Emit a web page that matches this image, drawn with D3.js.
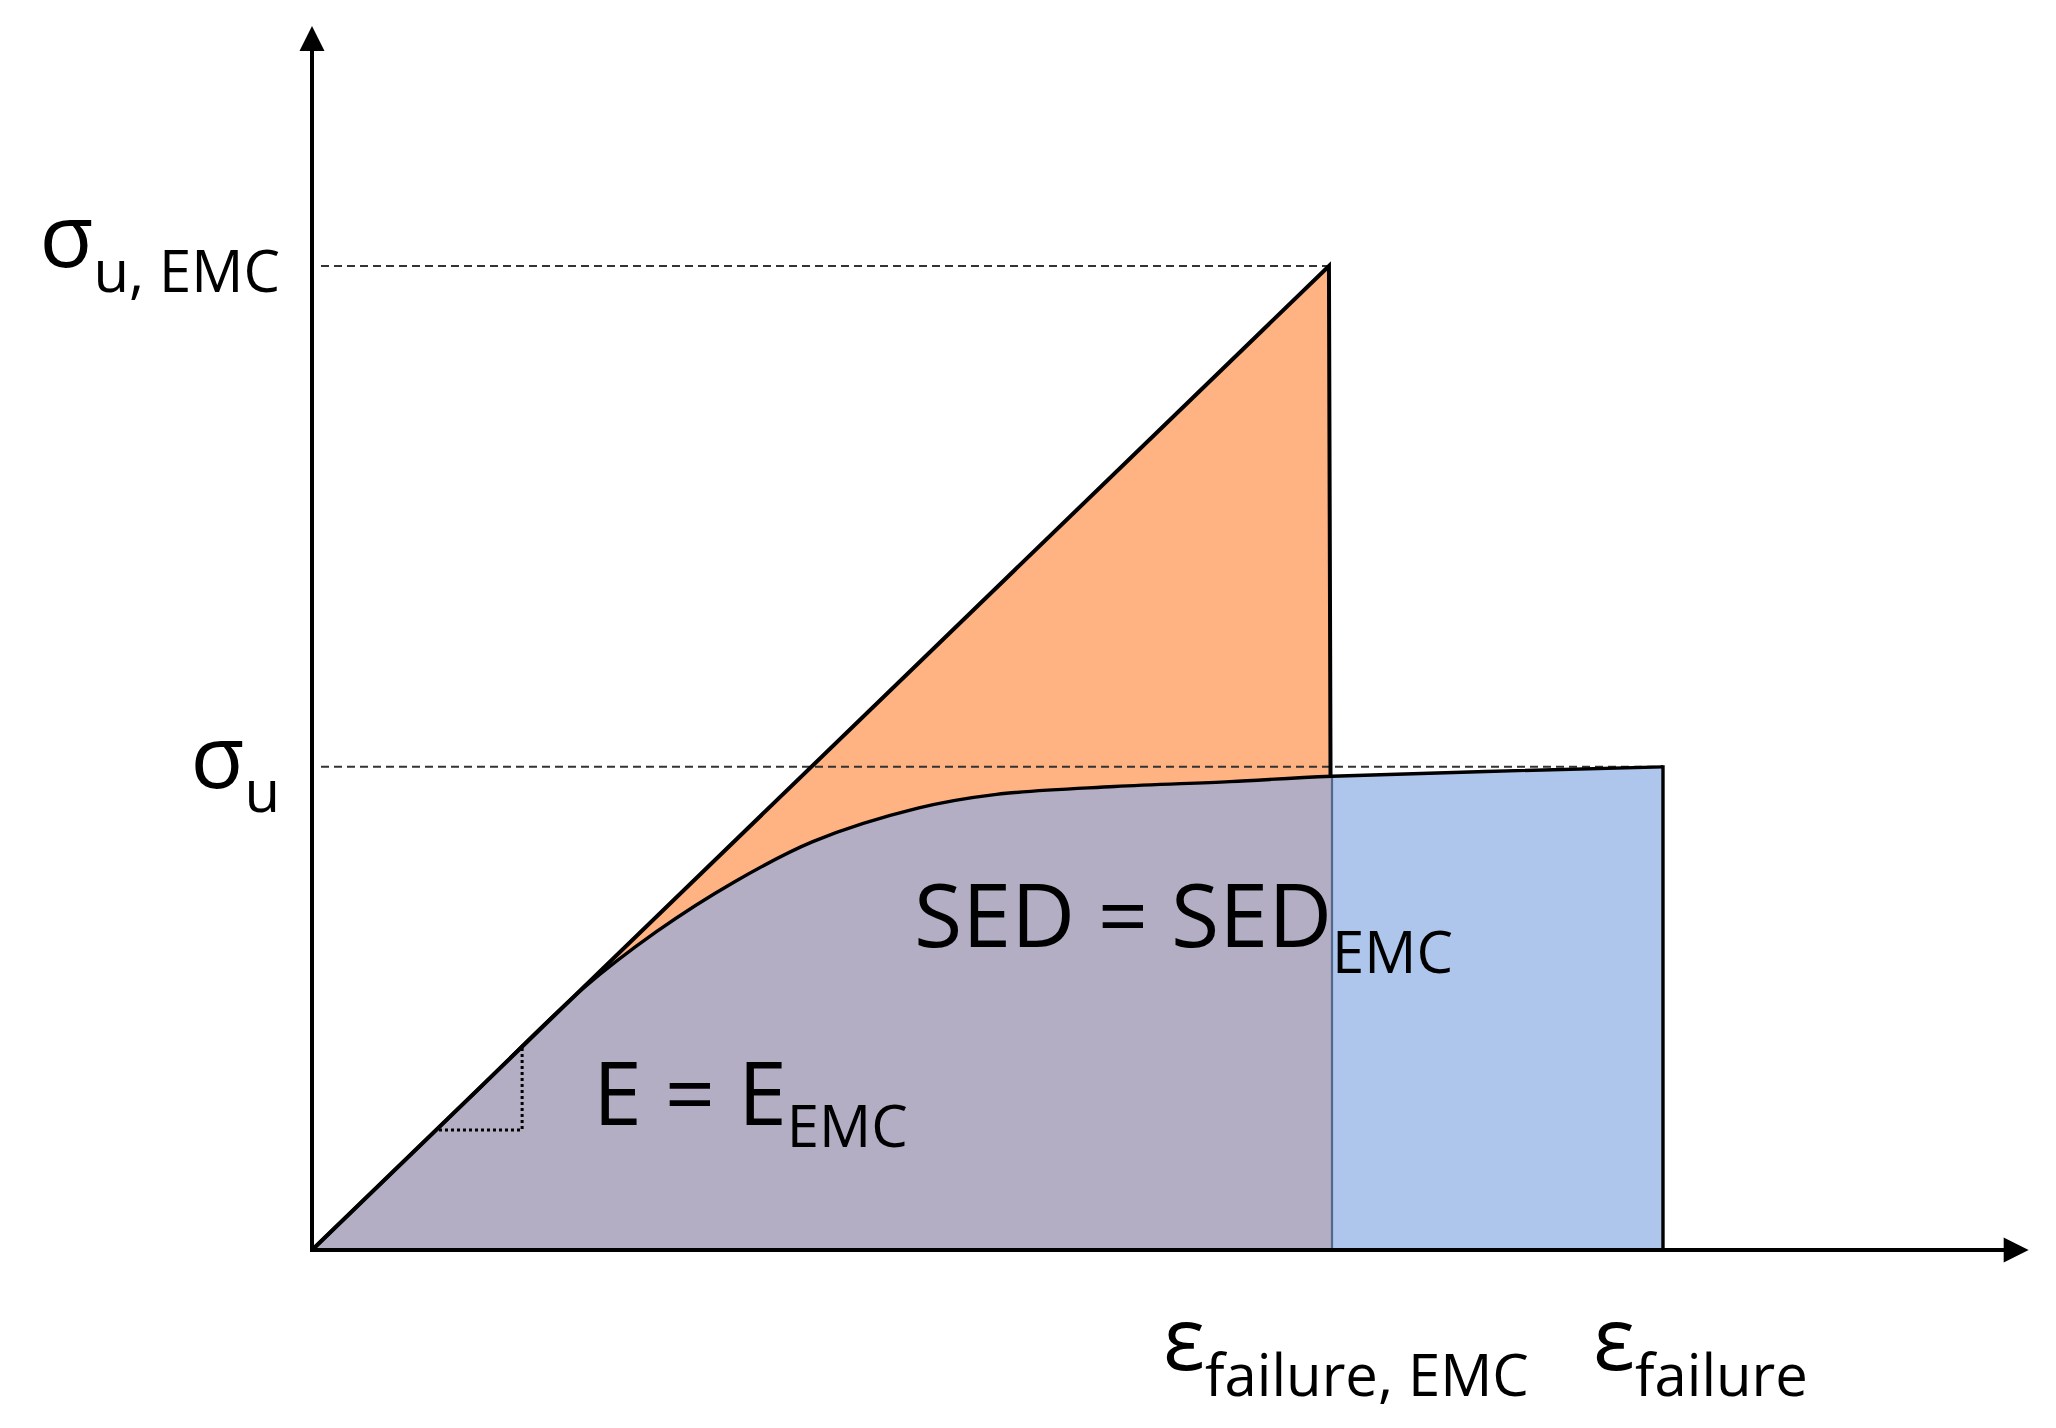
<!DOCTYPE html>
<html><head><meta charset="utf-8">
<script src="https://cdn.jsdelivr.net/npm/d3@7"></script>
<style>
body{margin:0;background:#fff}
svg{display:block}
text{font-family:"Open Sans","Noto Sans",sans-serif;fill:#000}
</style>
</head><body>
<svg id="c" width="2056" height="1428"></svg>
<script>
// ---- data (normalised strain / stress units) ----
const strainTickLabels = ["ε|failure, EMC", "ε|failure"];
const strainTickValues = [1.0, 1.3245];
const stressTickLabels = ["σ|u, EMC", "σ|u"];
const stressTickValues = [1.0, 0.491];
// EMC (linear elastic) curve: origin -> peak -> drop
const emcStrain = [0, 0.997, 1.0];
const emcStress = [0, 1.0, 0];
// Original material curve
const matStrain = [0, 0.15, 0.266, 0.337, 0.414, 0.491, 0.594, 0.671, 0.787, 0.9, 1.0, 1.3245];
const matStress = [0, 0.15, 0.266, 0.323, 0.374, 0.415, 0.449, 0.463, 0.471, 0.476, 0.4815, 0.491];
// right-angle slope marker
const slopeStrain = [0.1245, 0.206];
const slopeStress = [0.122, 0.206];
const axisMax = {x: 1.683, y: 1.244};
const annotations = ["E = E|EMC", "SED = SED|EMC"];

const svg = d3.select("#c");
const x = d3.scaleLinear().domain([0, 1]).range([312, 1332]);
const y = d3.scaleLinear().domain([0, 1]).range([1250, 266]);

const colOrange = "#FFB282", colGray = "#B3AEC4", colBlue = "#AEC6EB";

const mat = matStrain.map((d, i) => [d, matStress[i]]);
const emc = emcStrain.map((d, i) => [d, emcStress[i]]);
const curve = d3.curveCatmullRom.alpha(0.5);

// clip paths
const defs = svg.append("defs");
defs.append("clipPath").attr("id", "left").append("rect")
  .attr("x", 0).attr("y", 0).attr("width", x(1.0)).attr("height", 1428);
defs.append("clipPath").attr("id", "right").append("rect")
  .attr("x", x(1.0)).attr("y", 0).attr("width", 2056 - x(1.0)).attr("height", 1428);

// orange EMC triangle
svg.append("path")
  .attr("d", d3.line().x(d => x(d[0])).y(d => y(d[1]))(emc) + "Z")
  .attr("fill", colOrange);

const area = d3.area().x(d => x(d[0])).y0(y(0)).y1(d => y(d[1])).curve(curve);
svg.append("path").attr("d", area(mat)).attr("fill", colGray).attr("clip-path", "url(#left)");
svg.append("path").attr("d", area(mat)).attr("fill", colBlue).attr("clip-path", "url(#right)");

// separator under curve at failure EMC
const yAt1 = matStress[matStrain.indexOf(1.0)];
svg.append("line")
  .attr("x1", x(1.0)).attr("x2", x(1.0)).attr("y1", y(0)).attr("y2", y(yAt1))
  .attr("stroke", "#52698C").attr("stroke-width", 2.2);

// dashed reference lines
svg.append("line")
  .attr("x1", 321).attr("x2", x(emcStrain[1])).attr("y1", y(stressTickValues[0])).attr("y2", y(stressTickValues[0]))
  .attr("stroke", "#333").attr("stroke-width", 2).attr("stroke-dasharray", "8,5");
svg.append("line")
  .attr("x1", 321).attr("x2", x(strainTickValues[1])).attr("y1", y(stressTickValues[1])).attr("y2", y(stressTickValues[1]))
  .attr("stroke", "#333").attr("stroke-width", 2).attr("stroke-dasharray", "8,5");

// EMC outline (linear line + drop to material curve)
const dropT = (emcStress[1] - yAt1) / emcStress[1];
const dropX = emcStrain[1] + (emcStrain[2] - emcStrain[1]) * dropT;
svg.append("path")
  .attr("d", d3.line().x(d => x(d[0])).y(d => y(d[1]))([emc[0], emc[1], [dropX, yAt1]]))
  .attr("fill", "none").attr("stroke", "#000").attr("stroke-width", 4).attr("stroke-linejoin", "miter");

// material curve outline
svg.append("path")
  .attr("d", d3.line().x(d => x(d[0])).y(d => y(d[1])).curve(curve)(mat))
  .attr("fill", "none").attr("stroke", "#000").attr("stroke-width", 3.4);
const last = mat[mat.length - 1];
svg.append("line")
  .attr("x1", x(last[0])).attr("x2", x(last[0])).attr("y1", y(last[1]) - 1.7).attr("y2", y(0))
  .attr("stroke", "#000").attr("stroke-width", 3.4);

// slope marker (dotted right angle)
svg.append("path")
  .attr("d", d3.line().x(d => x(d[0])).y(d => y(d[1]))([[slopeStrain[0], slopeStress[0]], [slopeStrain[1], slopeStress[0]], [slopeStrain[1], slopeStress[1]]]))
  .attr("fill", "none").attr("stroke", "#000").attr("stroke-width", 3).attr("stroke-dasharray", "3,3");

// axes with arrows
const x0 = x(0), y0 = y(0), xEnd = x(axisMax.x), yEnd = y(axisMax.y);
svg.append("line").attr("x1", x0).attr("x2", xEnd - 20).attr("y1", y0).attr("y2", y0)
  .attr("stroke", "#000").attr("stroke-width", 4);
svg.append("line").attr("x1", x0).attr("x2", x0).attr("y1", y0 + 2).attr("y2", yEnd + 20)
  .attr("stroke", "#000").attr("stroke-width", 4);
svg.append("path").attr("d", `M${xEnd},${y0} L${xEnd - 25},${y0 - 12.5} L${xEnd - 25},${y0 + 12.5} Z`).attr("fill", "#000");
svg.append("path").attr("d", `M${x0},${yEnd} L${x0 - 12.5},${yEnd + 25} L${x0 + 12.5},${yEnd + 25} Z`).attr("fill", "#000");

// label helper
function label(str, px, py, anchor, subDy, mainSize, subSize) {
  const [m, s] = str.split("|");
  const t = svg.append("text").attr("x", px).attr("y", py).attr("text-anchor", anchor);
  t.append("tspan").attr("font-size", mainSize).text(m);
  t.append("tspan").attr("font-size", subSize).attr("dy", subDy).text(s);
  return t;
}

// stress labels
label(stressTickLabels[0], x0 - 32, y(stressTickValues[0]) + 1, "end", 25, 88, 58);
label(stressTickLabels[1], x0 - 32, y(stressTickValues[1]) + 21, "end", 24, 88, 58);
// strain labels
label(strainTickLabels[0], x(strainTickValues[0]) - 169, 1370, "start", 26, 88, 58);
label(strainTickLabels[1], x(strainTickValues[1]) - 70, 1370, "start", 26, 88, 58);
// annotations
label(annotations[0], 593, 1125, "start", 22, 88, 58);
label(annotations[1], 914, 947, "start", 26, 88, 58);
</script>
</body></html>
